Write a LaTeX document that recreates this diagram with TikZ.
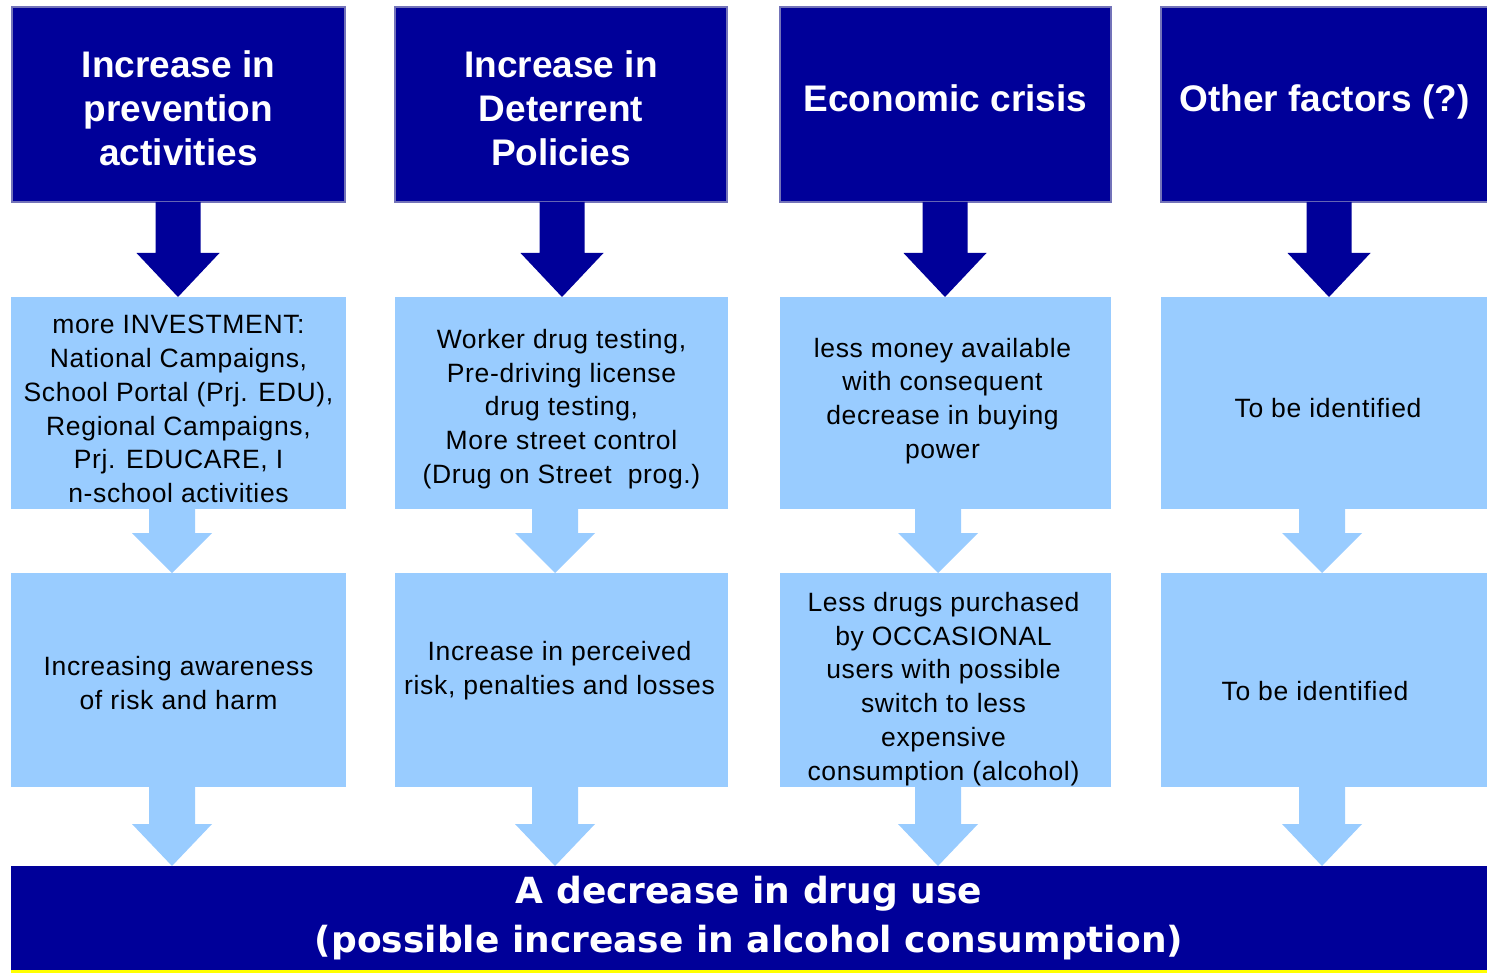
\documentclass[tikz,border=0pt]{standalone}
\usepackage{fontspec}
\setmainfont{Liberation Sans}
\newfontfamily\cellfont{Liberation Sans}[LetterSpace=2.5]
\newfontfamily\barfont{DejaVu Sans}
\usetikzlibrary{calc}

\definecolor{navy}{HTML}{000099}
\definecolor{navyedge}{HTML}{7373B9}
\definecolor{sky}{HTML}{99CCFF}
\definecolor{lineyellow}{HTML}{FFFF00}

\tikzset{
  headbox/.style={fill=navy, draw=navyedge, line width=1.2pt,
    inner sep=0pt, outer sep=0pt, anchor=north west},
  headtext/.style={text=white, font=\bfseries\fontsize{37}{44}\selectfont,
    align=center, inner sep=0pt},
  cellbox/.style={fill=sky, inner sep=0pt, outer sep=0pt, anchor=north west},
  celltext/.style={text=black, font=\cellfont\fontsize{26.5}{33.8}\selectfont,
    align=center, inner sep=0pt},
  result/.style={fill=navy, text=white,
    font=\barfont\bfseries\fontsize{36}{48.5}\selectfont, align=center,
    inner sep=0pt, outer sep=0pt, anchor=north west},
  darkarrow/.style={fill=navy},
  lightarrow/.style={fill=sky},
}

% block arrow: style, source node, target node, centre x, shaft half width,
% head half width, head length
\newcommand\blockarrow[7]{%
  \fill[#1] let \p1=(#2.south), \p2=(#3.north) in
    ({#4pt-#5pt},\y1) -- ({#4pt-#5pt},{\y2+#7pt}) -- ({#4pt-#6pt},{\y2+#7pt})
    -- ({#4pt},\y2) -- ({#4pt+#6pt},{\y2+#7pt}) -- ({#4pt+#5pt},{\y2+#7pt})
    -- ({#4pt+#5pt},\y1) -- cycle;}

\begin{document}
\begin{tikzpicture}[x=1pt,y=-1pt]
\useasboundingbox[fill=white] (0,0) rectangle (1487,973);

% causes
\node[headbox, minimum width=333pt, minimum height=195pt] (h1) at (12,7) {};
\node[headbox, minimum width=332pt, minimum height=195pt] (h2) at (395,7) {};
\node[headbox, minimum width=331pt, minimum height=195pt] (h3) at (780,7) {};
\node[headbox, minimum width=327pt, minimum height=195pt] (h4) at (1161,7) {};
\node[headtext] (h1t) at ([yshift=-4pt]h1.center) {Increase in\\prevention\\activities};
\node[headtext] (h2t) at ([yshift=-4pt]h2.center) {Increase in\\Deterrent\\Policies};
\node[headtext] (h3t) at ([yshift=6pt]h3.center) {Economic crisis};
\node[headtext] (h4t) at ([yshift=3pt]h4.center) {Other factors (?)};

% mechanisms
\node[cellbox, minimum width=335pt, minimum height=212pt] (m1) at (11,297) {};
\node[cellbox, minimum width=333pt, minimum height=212pt] (m2) at (395,297) {};
\node[cellbox, minimum width=331pt, minimum height=212pt] (m3) at (780,297) {};
\node[cellbox, minimum width=326pt, minimum height=212pt] (m4) at (1161,297) {};
\node[celltext] (m1t) at ([yshift=-6pt]m1.center)
  {more INVESTMENT:\\National Campaigns,\\School Portal (Prj. EDU),\\Regional Campaigns,\\Prj. EDUCARE, I\\n-school activities};
\node[celltext] (m2t) at ([yshift=-6pt]m2.center)
  {Worker drug testing,\\Pre-driving license\\drug testing,\\More street control\\(Drug on Street\ \ prog.)};
\node[celltext] (m3t) at ([xshift=-3pt,yshift=2pt]m3.center)
  {less money available\\with consequent\\decrease in buying\\power};
\node[celltext] (m4t) at ([xshift=4pt,yshift=-5pt]m4.center) {To be identified};

% effects
\node[cellbox, minimum width=335pt, minimum height=214pt] (e1) at (11,573) {};
\node[cellbox, minimum width=333pt, minimum height=214pt] (e2) at (395,573) {};
\node[cellbox, minimum width=331pt, minimum height=214pt] (e3) at (780,573) {};
\node[cellbox, minimum width=326pt, minimum height=214pt] (e4) at (1161,573) {};
\node[celltext] (e1t) at ([yshift=-3pt]e1.center) {Increasing awareness\\of risk and harm};
\node[celltext] (e2t) at ([xshift=-2pt,yshift=9pt]e2.center) {Increase in perceived\\risk, penalties and losses};
\node[celltext] (e3t) at ([xshift=-2pt,yshift=-9pt]e3.center)
  {Less drugs purchased\\by OCCASIONAL\\users with possible\\switch to less\\expensive\\consumption (alcohol)};
\node[celltext] (e4t) at ([xshift=-9pt,yshift=-11pt]e4.center) {To be identified};

% outcome
\node[result, minimum width=1476pt, minimum height=104pt] (out) at (11,866)
  {A decrease in drug use\\(possible increase in alcohol consumption)};
\fill[lineyellow] (out.south west) rectangle ++(1476,3);

% arrows
\blockarrow{darkarrow}{h1}{m1}{178}{22.5}{41.5}{44}
\blockarrow{darkarrow}{h2}{m2}{562}{22.5}{41.5}{44}
\blockarrow{darkarrow}{h3}{m3}{945}{22.5}{41.5}{44}
\blockarrow{darkarrow}{h4}{m4}{1329}{22.5}{41.5}{44}

\blockarrow{lightarrow}{m1}{e1}{172}{23}{40}{40}
\blockarrow{lightarrow}{m2}{e2}{555}{23}{40}{40}
\blockarrow{lightarrow}{m3}{e3}{938}{23}{40}{40}
\blockarrow{lightarrow}{m4}{e4}{1322}{23}{40}{40}

\blockarrow{lightarrow}{e1}{out}{172}{23}{40}{42}
\blockarrow{lightarrow}{e2}{out}{555}{23}{40}{42}
\blockarrow{lightarrow}{e3}{out}{938}{23}{40}{42}
\blockarrow{lightarrow}{e4}{out}{1322}{23}{40}{42}
\end{tikzpicture}
\end{document}
